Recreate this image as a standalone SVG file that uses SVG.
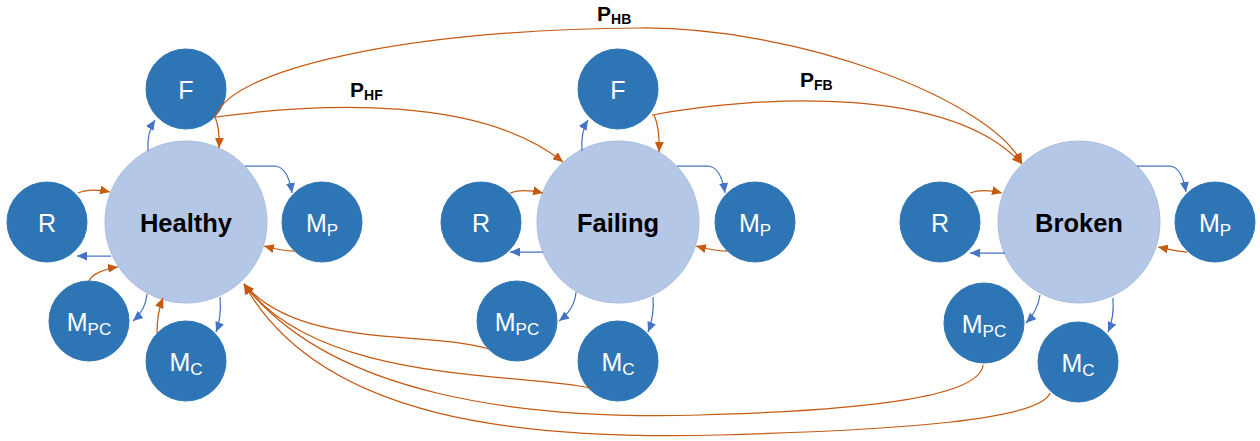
<svg xmlns="http://www.w3.org/2000/svg" width="1260" height="441" viewBox="0 0 1260 441">
<style>
.big{fill:#B4C7E7;stroke:#A9BCDD;stroke-width:1}
.sm{fill:#2E75B6;stroke:#2E75B6;stroke-width:1}
.st{font-family:"Liberation Sans",Arial,sans-serif;font-weight:bold;font-size:25.5px;fill:#000;text-anchor:middle}
.lb{font-family:"Liberation Sans",Arial,sans-serif;font-size:25px;fill:#fff;text-anchor:middle}
.sub{font-size:17px}
.pl{font-family:"Liberation Sans",Arial,sans-serif;font-weight:bold;font-size:21px;fill:#000}
.ps{font-size:14px}
.o{fill:none;stroke:#C55A11;stroke-width:1.25;marker-end:url(#ao)}
.b{fill:none;stroke:#4472C4;stroke-width:1.25;marker-end:url(#ab)}
</style>
<defs>
<marker id="ao" markerUnits="userSpaceOnUse" markerWidth="10" markerHeight="9" refX="10" refY="4.5" orient="auto"><path d="M0,0 L10,4.5 L0,9 z" fill="#C55A11"/></marker>
<marker id="ab" markerUnits="userSpaceOnUse" markerWidth="10" markerHeight="9" refX="10" refY="4.5" orient="auto"><path d="M0,0 L10,4.5 L0,9 z" fill="#4472C4"/></marker>
</defs>
<rect width="1260" height="441" fill="#fff"/>

<g id="healthy-cluster">
<g id="H"><circle class="big" cx="186" cy="222" r="81"/><text class="st" x="186" y="232">Healthy</text></g>
<g id="H-F"><circle class="sm" cx="186" cy="89" r="40"/><text class="lb" x="186" y="99">F</text></g>
<g id="H-R"><circle class="sm" cx="47" cy="222" r="40"/><text class="lb" x="47" y="232">R</text></g>
<g id="H-MP"><circle class="sm" cx="322" cy="222" r="40"/><text class="lb" x="322" y="232">M<tspan class="sub" dy="4">P</tspan></text></g>
<g id="H-MPC"><circle class="sm" cx="89" cy="321" r="40"/><text class="lb" x="89" y="331">M<tspan class="sub" dy="4">PC</tspan></text></g>
<g id="H-MC"><circle class="sm" cx="186" cy="361" r="40"/><text class="lb" x="186" y="371">M<tspan class="sub" dy="4">C</tspan></text></g>
</g>

<g id="failing-cluster">
<g id="FA"><circle class="big" cx="618" cy="222" r="81"/><text class="st" x="618" y="232">Failing</text></g>
<g id="FA-F"><circle class="sm" cx="618" cy="89" r="40"/><text class="lb" x="618" y="99">F</text></g>
<g id="FA-R"><circle class="sm" cx="481" cy="222" r="40"/><text class="lb" x="481" y="232">R</text></g>
<g id="FA-MP"><circle class="sm" cx="755" cy="222" r="40"/><text class="lb" x="755" y="232">M<tspan class="sub" dy="4">P</tspan></text></g>
<g id="FA-MPC"><circle class="sm" cx="517" cy="321" r="40"/><text class="lb" x="517" y="331">M<tspan class="sub" dy="4">PC</tspan></text></g>
<g id="FA-MC"><circle class="sm" cx="618" cy="361" r="40"/><text class="lb" x="618" y="371">M<tspan class="sub" dy="4">C</tspan></text></g>
</g>

<g id="broken-cluster">
<g id="B"><circle class="big" cx="1079" cy="222" r="81"/><text class="st" x="1079" y="232">Broken</text></g>
<g id="B-R"><circle class="sm" cx="940" cy="222" r="40"/><text class="lb" x="940" y="232">R</text></g>
<g id="B-MP"><circle class="sm" cx="1215" cy="222" r="40"/><text class="lb" x="1215" y="232">M<tspan class="sub" dy="4">P</tspan></text></g>
<g id="B-MPC"><circle class="sm" cx="984" cy="323" r="40"/><text class="lb" x="984" y="333">M<tspan class="sub" dy="4">PC</tspan></text></g>
<g id="B-MC"><circle class="sm" cx="1078" cy="362" r="40"/><text class="lb" x="1078" y="372">M<tspan class="sub" dy="4">C</tspan></text></g>
</g>

<g id="connectors">
<path class="b" d="M148,151 C147,138 150,128 155,120"/>
<path class="o" d="M215,117 Q220,128 219,148"/>
<path class="b" d="M245,166 L275,166 C285,167 290,180 292,193"/>
<path class="o" d="M294,251 C285,251 275,249 264,246"/>
<path class="b" d="M111,256 L77,256"/>
<path class="o" d="M78,193 C85,190 96,189 110,192"/>
<path class="o" d="M89,281 C92,274 104,269 118,267"/>
<path class="b" d="M147,294 C146,305 140,315 133,321"/>
<path class="o" d="M157,333 C157,318 159,308 163,298"/>
<path class="b" d="M220,297 C221,310 220,322 216,332"/>
<path class="b" d="M582,151 C581,138 583,128 588,120"/>
<path class="o" d="M654,115 Q660,128 659,152"/>
<path class="b" d="M677,166 L708,166 C718,167 723,180 725,193"/>
<path class="o" d="M727,251 C717,251 707,249 696,246"/>
<path class="b" d="M543,252 L510,252"/>
<path class="o" d="M510,193 C518,190 530,190 543,193"/>
<path class="b" d="M576,292 C575,305 567,315 559,321"/>
<path class="b" d="M653,297 C654,310 652,322 648,332"/>
<path class="b" d="M1137,166 L1170,166 C1180,167 1184,180 1186,192"/>
<path class="o" d="M1187,252 C1178,252 1168,249 1158,247"/>
<path class="o" d="M970,193 C978,190 990,190 1002,193"/>
<path class="b" d="M1005,253 L970,253"/>
<path class="b" d="M1040,295 C1038,308 1032,317 1026,323"/>
<path class="b" d="M1113,298 C1114,312 1112,323 1108,332"/>
<path class="o" d="M216,117 C320,103 480,95 563,162"/>
<path class="o" d="M652,115 C760,95 950,85 1022,164"/>
<path class="o" d="M215,117 C230,70 400,30 640,28 C800,27 990,100 1022,163"/>
<path class="o" d="M489,349 C430,330 300,350 244,284"/>
<path class="o" d="M590,388 C520,372 320,385 244,284"/>
<path class="o" d="M983,365 C980,395 880,410 700,415 C520,420 330,395 244,284"/>
<path class="o" d="M1050,393 C1040,420 900,430 720,435 C520,440 320,420 244,284"/>
</g>

<g id="labels">
<text class="pl" x="597" y="21">P<tspan class="ps" dy="3">HB</tspan></text>
<text class="pl" x="350" y="97">P<tspan class="ps" dy="3">HF</tspan></text>
<text class="pl" x="800" y="87">P<tspan class="ps" dy="3">FB</tspan></text>
</g>
</svg>
